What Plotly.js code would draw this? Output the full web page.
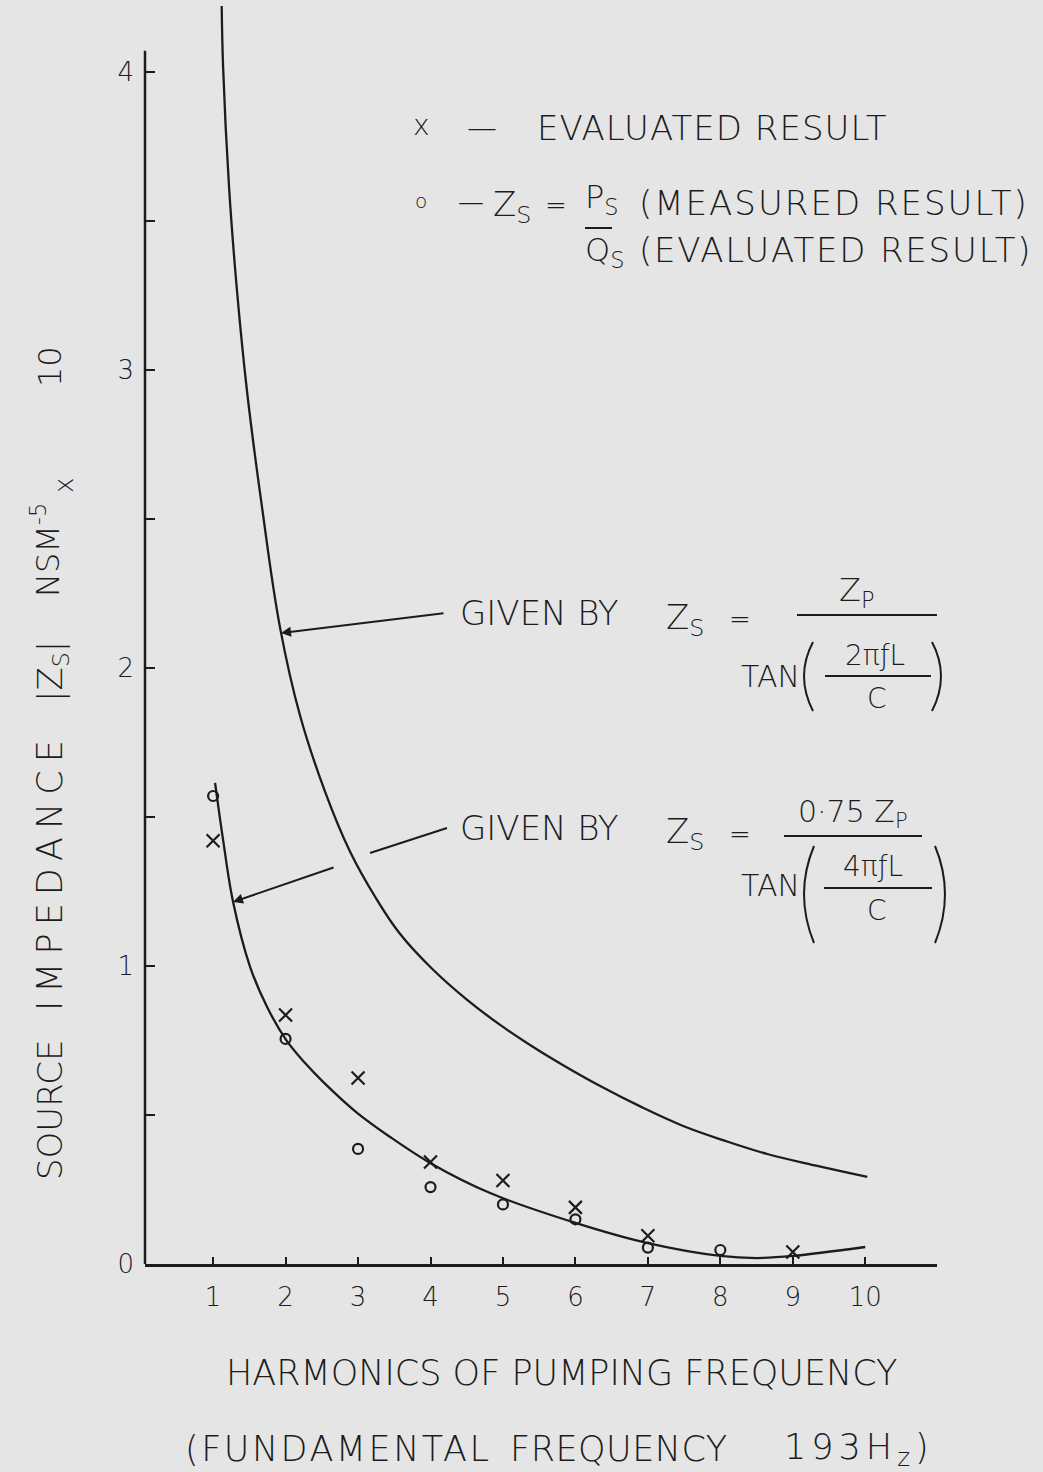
<!DOCTYPE html>
<html>
<head>
<meta charset="utf-8">
<script src="https://cdn.plot.ly/plotly-3.0.1.min.js"></script>
<style>
  html, body { margin: 0; padding: 0; background: #e5e5e5; }
  #chart { width: 1043px; height: 1472px; }
</style>
</head>
<body>
<div id="chart"></div>
<script>
// ---- data ----
const harmonics = [1, 2, 3, 4, 5, 6, 7, 8, 9];
const xTicks = [1, 2, 3, 4, 5, 6, 7, 8, 9, 10];
const xTickText = ['1', '2', '3', '4', '5', '6', '7', '8', '9', '10'];
const yTicks = [0, 0.5, 1, 1.5, 2, 2.5, 3, 3.5, 4];
const yTickText = ['0', '', '1', '', '2', '', '3', '', '4'];

// x  - evaluated result
const evaluatedZs = [1.42, 0.835, 0.624, 0.342, 0.28, 0.19, 0.095, null, 0.04];
// o  - Zs = Ps/Qs (measured result / evaluated result)
const measuredZs = [1.57, 0.755, 0.386, 0.258, 0.20, 0.15, 0.055, 0.047, null];

// curve: Zs = Zp / tan(2 pi f L / c)
const curve1X = [1.1168, 1.1375, 1.2203, 1.3308, 1.4688, 1.6759, 1.9244, 2.2005, 2.5456, 2.8907, 3.2358, 3.5809,
                 4.0364, 4.5058, 4.9613, 5.4169, 5.8724, 6.3418, 6.9078, 7.4876, 8.0674, 8.6472, 9.3374, 10.0276];
const curve1Y = [4.25, 4.017, 3.611, 3.262, 2.926, 2.537, 2.134, 1.839, 1.584, 1.383, 1.232, 1.107,
                 0.987, 0.886, 0.802, 0.728, 0.661, 0.597, 0.527, 0.463, 0.413, 0.369, 0.329, 0.292];

// curve: Zs = 0.75 Zp / tan(4 pi f L / c)
const curve2X = [1.027, 1.1375, 1.275, 1.510, 1.745, 2.007, 2.269, 2.518, 2.987, 3.443, 3.995, 4.823, 6.0, 7.0, 8.0, 8.5, 9.0, 10.0];
const curve2Y = [1.614, 1.423, 1.215, 0.997, 0.862, 0.752, 0.674, 0.611, 0.507, 0.426, 0.339, 0.238, 0.138, 0.07, 0.027, 0.02, 0.027, 0.057];

// ---- styling ----
const INK = '#1c1c1c';
const PAPER = '#e5e5e5';
const FONT = 'DejaVu Sans, Lato, sans-serif';

const L = 145, T = 6, W = 792, H = 1258;
const px = x => (x - L) / W;
const py = y => (T + H - y) / H;

function sp(text, ls) { return '<span style="letter-spacing:' + ls + 'px">' + text + '</span>'; }
function lab(text, x, y, size, xanchor, extra) {
  return Object.assign({
    text: text, xref: 'paper', yref: 'paper', x: px(x), y: py(y),
    xanchor: xanchor || 'left', yanchor: 'middle', showarrow: false,
    font: { family: FONT, size: size, color: INK, weight: 300 }
  }, extra || {});
}
function seg(x0, y0, x1, y1, w) {
  return { type: 'line', xref: 'paper', yref: 'paper',
    x0: px(x0), y0: py(y0), x1: px(x1), y1: py(y1),
    line: { color: INK, width: w || 2 } };
}
function paren(xa, ya, xc, yc, xb, yb) {
  return { type: 'path', xref: 'paper', yref: 'paper',
    path: 'M ' + px(xa) + ' ' + py(ya) + ' Q ' + px(xc) + ' ' + py(yc) + ' ' + px(xb) + ' ' + py(yb),
    line: { color: INK, width: 2 } };
}

const traces = [
  { x: curve1X, y: curve1Y, mode: 'lines', line: { color: INK, width: 2.3, shape: 'spline', smoothing: 1.1 }, hoverinfo: 'skip' },
  { x: curve2X, y: curve2Y, mode: 'lines', line: { color: INK, width: 2.3, shape: 'spline', smoothing: 1 }, hoverinfo: 'skip' },
  { x: harmonics, y: evaluatedZs, mode: 'markers', cliponaxis: false,
    marker: { symbol: 'x-thin-open', size: 13, color: INK, line: { color: INK, width: 2.2 } } },
  { x: harmonics, y: measuredZs, mode: 'markers', cliponaxis: false,
    marker: { symbol: 'circle-open', size: 10, color: INK, line: { color: INK, width: 2.2 } } }
];

const annotations = [
  // legend
  lab('x', 421, 126, 28, 'center'),
  lab('—', 482, 127, 30, 'center'),
  lab(sp('EVALUATED RESULT', 1), 535, 128, 34),
  lab('o', 421, 201, 20, 'center'),
  lab('—', 471, 202, 26, 'center'),
  lab('Z<sub>S</sub>', 491, 206, 34),
  lab('=', 556, 205, 26, 'center'),
  lab('P<sub>S</sub>', 583, 199, 32),
  lab('Q<sub>S</sub>', 583, 252, 32),
  lab(sp('(MEASURED RESULT)', 2), 637, 203, 34),
  lab(sp('(EVALUATED RESULT)', 1.8), 637, 250, 34),

  // first formula
  lab('GIVEN BY', 458, 613, 34),
  lab('Z<sub>S</sub>', 664, 619, 34),
  lab('=', 740, 619, 26, 'center'),
  lab('Z<sub>P</sub>', 856, 592, 32, 'center'),
  lab('TAN', 739, 676, 30),
  lab('2πƒL', 875, 655, 28, 'center'),
  lab('C', 877, 698, 28, 'center'),

  // second formula
  lab('GIVEN BY', 458, 828, 34),
  lab('Z<sub>S</sub>', 664, 833, 34),
  lab('=', 740, 834, 26, 'center'),
  lab('0·75 Z<sub>P</sub>', 853, 813, 30, 'center'),
  lab('TAN', 739, 885, 30),
  lab('4πƒL', 873, 866, 28, 'center'),
  lab('C', 877, 910, 28, 'center'),

  // arrows
  { text: '', xref: 'paper', yref: 'paper', x: px(281), y: py(633), ax: 164, ay: -20,
    showarrow: true, arrowhead: 2, arrowsize: 1, arrowwidth: 2, arrowcolor: INK, standoff: 0 },
  { text: '', xref: 'paper', yref: 'paper', x: px(233), y: py(902), ax: 102, ay: -35,
    showarrow: true, arrowhead: 2, arrowsize: 1, arrowwidth: 2, arrowcolor: INK, standoff: 0 },

  // x axis titles
  lab('HARMONICS OF PUMPING FREQUENCY', 561, 1373, 35, 'center'),
  lab(sp('(FUNDAMENTAL', 2.5), 183, 1449, 35, 'left'),
  lab(sp('FREQUENCY', 0.5), 508, 1449, 35, 'left'),
  lab(sp('193H<sub>z</sub>)', 5), 936, 1449, 35, 'right'),

  // y axis title pieces (rotated)
  lab('SOURCE', 50, 1110, 34, 'center', { textangle: -90 }),
  lab(sp('IMPEDANCE', 8), 50, 872, 35, 'center', { textangle: -90 }),
  lab('|Z<sub>S</sub>|', 52, 672, 34, 'center', { textangle: -90 }),
  lab('NSM<sup>-5</sup>', 46, 550, 32, 'center', { textangle: -90 }),
  lab('x', 64, 486, 26, 'center', { textangle: -90 }),
  lab('10', 50, 367, 32, 'center', { textangle: -90 })
];

const shapes = [
  // y axis line (stops at ~4.07 while the curve runs above it)
  { type: 'line', xref: 'paper', yref: 'y', x0: 0, x1: 0, y0: 0, y1: 4.07, line: { color: INK, width: 2.5 } },
  // legend fraction bar
  seg(585, 228, 612, 228, 2),
  // first formula bars and brackets
  seg(797, 615, 937, 615, 2),
  seg(825, 676, 931, 676, 2),
  paren(813, 642, 795, 676, 813, 711),
  paren(932, 642, 950, 676, 932, 711),
  // second formula bars and brackets
  seg(784, 836, 922, 836, 2),
  seg(824, 888, 932, 888, 2),
  paren(814, 846, 794, 894, 814, 943),
  paren(935, 846, 955, 894, 935, 943),
  // broken part of the lower arrow leader
  seg(370, 853, 447, 828, 2)
];

const layout = {
  width: 1043, height: 1472,
  margin: { l: L, r: 1043 - L - W, t: T, b: 1472 - T - H },
  paper_bgcolor: PAPER, plot_bgcolor: PAPER,
  showlegend: false,
  font: { family: FONT, color: INK },
  xaxis: {
    range: [0.06, 10.99], tickmode: 'array', tickvals: xTicks, ticktext: xTickText,
    ticks: 'inside', ticklen: 7, tickwidth: 2, tickcolor: INK,
    showline: true, linewidth: 2.5, linecolor: INK,
    showgrid: false, zeroline: false,
    tickfont: { family: FONT, size: 26, color: INK, weight: 300 },
    ticklabelstandoff: 8
  },
  yaxis: {
    range: [0, 4.22], tickmode: 'array', tickvals: yTicks, ticktext: yTickText,
    ticks: 'inside', ticklen: 10, tickwidth: 2, tickcolor: INK,
    showline: false, showgrid: false, zeroline: false,
    tickfont: { family: FONT, size: 26, color: INK, weight: 300 },
    ticklabelstandoff: 10
  },
  annotations: annotations,
  shapes: shapes
};

Plotly.newPlot('chart', traces, layout, { staticPlot: true, displayModeBar: false });
</script>
</body>
</html>
